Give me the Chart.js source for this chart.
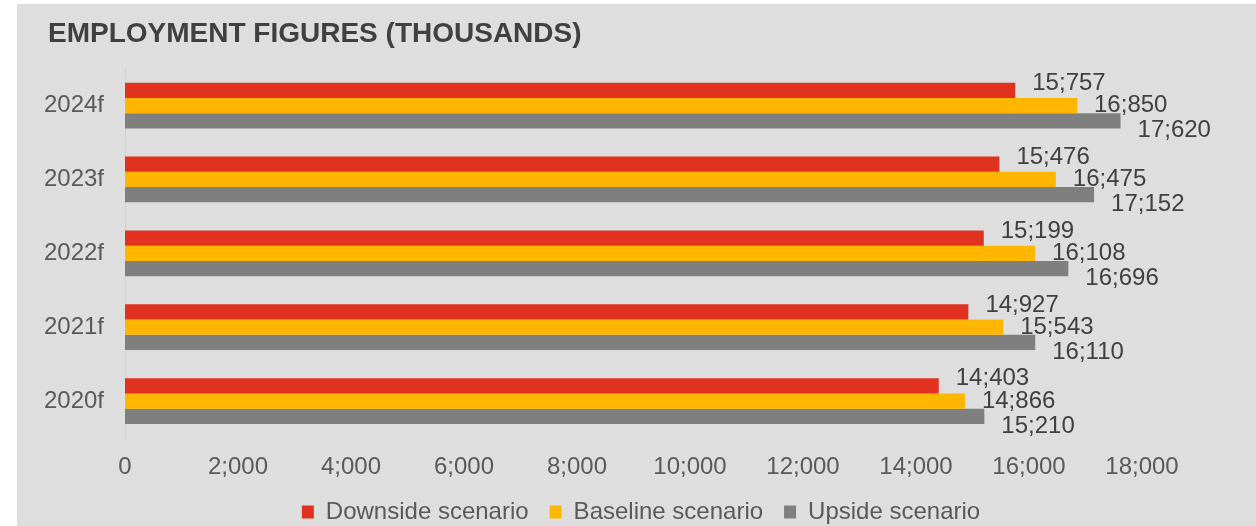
<!DOCTYPE html>
<html>
<head>
<meta charset="utf-8">
<script src="https://cdn.jsdelivr.net/npm/chart.js@4.4.1/dist/chart.umd.min.js"></script>
<style>
  html, body { margin: 0; padding: 0; background: #ffffff; }
  #panel { position: absolute; left: 17px; top: 4px; width: 1239px; height: 522px; background: #dedede; }
</style>
</head>
<body>
<div id="panel"><canvas id="chart"></canvas></div>
<script>
// Employment forecasts, thousands of people
const years = ['2020f', '2021f', '2022f', '2023f', '2024f'];
const downside = [14403, 14927, 15199, 15476, 15757];
const baseline = [14866, 15543, 16108, 16475, 16850];
const upside   = [15210, 16110, 16696, 17152, 17620];
const seriesNames = ['Downside scenario', 'Baseline scenario', 'Upside scenario'];
const xTickValues = [0, 2000, 4000, 6000, 8000, 10000, 12000, 14000, 16000, 18000];

const FONT = "'Liberation Sans', Arial, Helvetica, sans-serif";

// thousands grouped with ';'
function fmt(v) {
  return String(Math.round(v)).replace(/\B(?=(\d{3})+(?!\d))/g, ';');
}

// value labels just past the end of each bar
const valueLabels = {
  id: 'valueLabels',
  afterDatasetsDraw(chart) {
    const ctx = chart.ctx;
    const shift = [-7, 0, 10];
    ctx.save();
    ctx.font = '24px ' + FONT;
    ctx.fillStyle = '#404040';
    ctx.textAlign = 'left';
    ctx.textBaseline = 'middle';
    chart.data.datasets.forEach((ds, di) => {
      const meta = chart.getDatasetMeta(di);
      meta.data.forEach((bar, i) => {
        ctx.fillText(fmt(ds.data[i]), bar.x + 17, bar.y + shift[di]);
      });
    });
    ctx.restore();
  }
};

// title starts in line with the category labels' left margin
const titleIndent = {
  id: 'titleIndent',
  afterLayout(chart) {
    if (chart.titleBlock) chart.titleBlock.left = 31;
  }
};

new Chart(document.getElementById('chart'), {
  type: 'bar',
  data: {
    labels: years,
    datasets: [
      { label: seriesNames[0], data: downside, backgroundColor: '#e0321f' },
      { label: seriesNames[1], data: baseline, backgroundColor: '#ffb600' },
      { label: seriesNames[2], data: upside,   backgroundColor: '#7f7f7f' }
    ]
  },
  options: {
    indexAxis: 'y',
    responsive: true,
    maintainAspectRatio: false,
    animation: false,
    layout: { padding: { left: 10, right: 1, top: 0, bottom: -8 } },
    datasets: { bar: { categoryPercentage: 0.62, barPercentage: 1.0, borderWidth: 0 } },
    scales: {
      x: {
        min: 0,
        max: 18000,
        afterBuildTicks(scale) { scale.ticks = xTickValues.map(v => ({ value: v })); },
        afterFit(scale) { scale.height = 41; scale.paddingRight = 114; },
        grid: { display: false, drawTicks: false },
        border: { display: false },
        ticks: {
          padding: 17,
          color: '#595959',
          font: { family: FONT, size: 24, lineHeight: 1 },
          maxRotation: 0,
          autoSkip: false,
          callback: v => fmt(v)
        }
      },
      y: {
        reverse: true,
        afterFit(scale) { scale.width = 98; },
        grid: { display: false, drawTicks: false },
        border: { display: true, color: '#d2d2d2', width: 1 },
        ticks: {
          padding: 21,
          color: '#595959',
          font: { family: FONT, size: 24 }
        }
      }
    },
    plugins: {
      title: {
        display: true,
        text: 'EMPLOYMENT FIGURES (THOUSANDS)',
        align: 'start',
        color: '#404040',
        font: { family: FONT, size: 28, weight: 'bold' },
        padding: { top: 13, bottom: 18 }
      },
      legend: {
        position: 'bottom',
        labels: {
          color: '#595959',
          font: { family: FONT, size: 24 },
          boxWidth: 12,
          boxHeight: 13,
          padding: 21
        }
      },
      tooltip: { enabled: false }
    }
  },
  plugins: [valueLabels, titleIndent]
});
</script>
</body>
</html>
